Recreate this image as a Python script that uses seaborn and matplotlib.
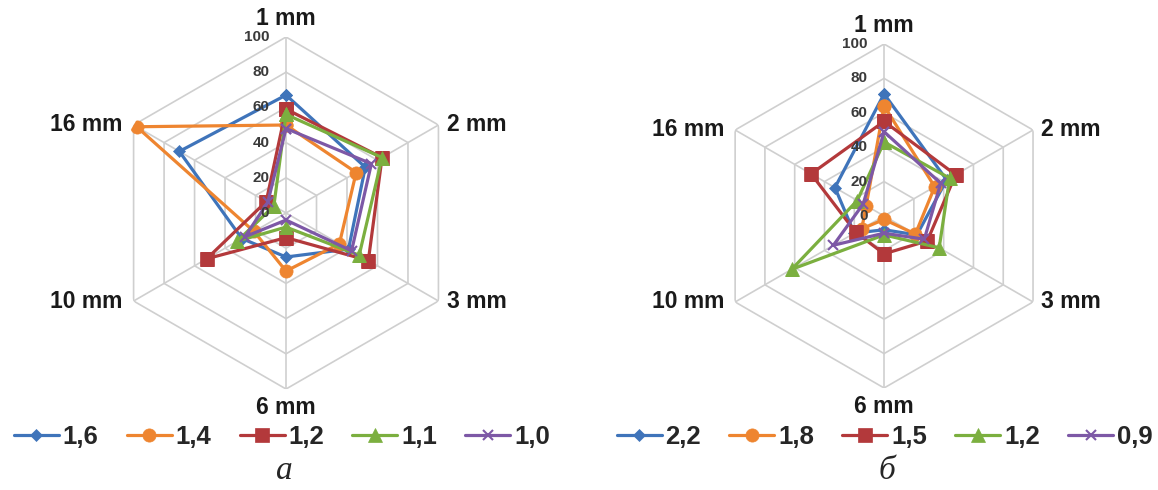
import numpy as np
import pandas as pd
import matplotlib
matplotlib.use("Agg")
import matplotlib.pyplot as plt
import seaborn as sns

# axes of the radar (clockwise from the top)
categories = ["1 mm", "2 mm", "3 mm", "6 mm", "10 mm", "16 mm"]
ring_ticks = [0, 20, 40, 60, 80, 100]

# panel a
labels_a = ["1,6", "1,4", "1,2", "1,1", "1,0"]
s16_a = [67, 52, 41, 25, 29, 70]
s14_a = [50, 46, 35, 33, 21, 98]
s12_a = [59, 63, 54, 14, 52, 13]
s11_a = [56, 63, 48, 8, 32, 8]
s10_a = [48, 56, 43, 4, 27, 12]

# panel b
labels_b = ["2,2", "1,8", "1,5", "1,2", "0,9"]
s22_b = [71, 42, 22, 8, 20, 33]
s18_b = [64, 34, 21, 2, 15, 12]
s15_b = [55, 48, 29, 22, 19, 49]
s12_b = [43, 44, 37, 11, 62, 18]
s09_b = [49, 38, 27, 10, 34, 14]

colors = ["#3F74BA", "#EE8530", "#B3393B", "#7BAF3F", "#7D58A6"]
markers = ["D", "o", "s", "^", "x"]
msizes = [6.5, 9.5, 10, 9.5, 7]

sns.set_theme(style="white")
plt.rcParams["font.family"] = ["Liberation Sans", "DejaVu Sans"]

fig = plt.figure(figsize=(11.58, 4.90), dpi=100)

n = len(categories)
theta = np.linspace(0, 2 * np.pi, n, endpoint=False)
theta_c = np.append(theta, theta[0])

label_offsets = {
    "1 mm": ((0, 5), "center", "bottom"),
    "2 mm": ((6, 0), "left", "center"),
    "3 mm": ((6, 0), "left", "center"),
    "6 mm": ((0, -5), "center", "top"),
    "10 mm": ((-8, 0), "right", "center"),
    "16 mm": ((-8, 0), "right", "center"),
}


def radar(rect, series, names, legend_x, caption):
    ax = fig.add_axes(rect, projection="polar")
    ax.set_theta_zero_location("N")
    ax.set_theta_direction(-1)
    ax.set_ylim(0, 100)
    ax.grid(False)
    ax.spines["polar"].set_visible(False)
    ax.set_xticks([])
    ax.set_yticks([])
    ax.patch.set_alpha(0)

    # hexagonal grid
    for r in ring_ticks[1:]:
        ax.plot(theta_c, [r] * (n + 1), color="#CFCFCF", lw=1.2, zorder=0)
    for t in theta:
        ax.plot([t, t], [0, 100], color="#CFCFCF", lw=1.2, zorder=0)

    for vals, name, c, m, ms in zip(series, names, colors, markers, msizes):
        df = pd.DataFrame({"theta": theta_c, "value": np.append(vals, vals[0])})
        sns.lineplot(data=df, x="theta", y="value", sort=False, estimator=None,
                     color=c, marker=m, markersize=ms, markeredgecolor=c,
                     markeredgewidth=1.5 if m == "x" else 0.5,
                     lw=2.3, label=name, ax=ax, zorder=3)
    ax.set_xlabel("")
    ax.set_ylabel("")
    ax.set_ylim(0, 100)

    for v in ring_ticks:
        ax.annotate(str(v), xy=(0, v), xytext=(-12, 0), textcoords="offset points",
                    ha="right", va="center", fontsize=11, fontweight="bold",
                    color="#3A3A3A", zorder=5)

    for t, cat in zip(theta, categories):
        off, ha, va = label_offsets[cat]
        ax.annotate(cat, xy=(t, 100), xytext=off, textcoords="offset points",
                    ha=ha, va=va, fontsize=16.5, fontweight="bold", color="#1A1A1A",
                    annotation_clip=False)

    handles, labs = ax.get_legend_handles_labels()
    ax.get_legend().remove()
    fig.legend(handles, labs, loc="center", bbox_to_anchor=(legend_x, 0.108),
               ncol=5, frameon=False, handlelength=1.75, handletextpad=0.15,
               columnspacing=1.1, prop={"weight": "bold", "size": 18.5})
    fig.text(legend_x + 0.002, 0.04, caption, ha="center", va="center",
             fontsize=24, fontstyle="italic",
             family=["Liberation Serif", "DejaVu Serif"])
    return ax


radar([0.0950, 0.2061, 0.3040, 0.7184],
      [s16_a, s14_a, s12_a, s11_a, s10_a], labels_a, 0.2435, "а")
radar([0.6149, 0.2082, 0.2971, 0.7020],
      [s22_b, s18_b, s15_b, s12_b, s09_b], labels_b, 0.764, "б")

fig.savefig("out.png", dpi=100)
